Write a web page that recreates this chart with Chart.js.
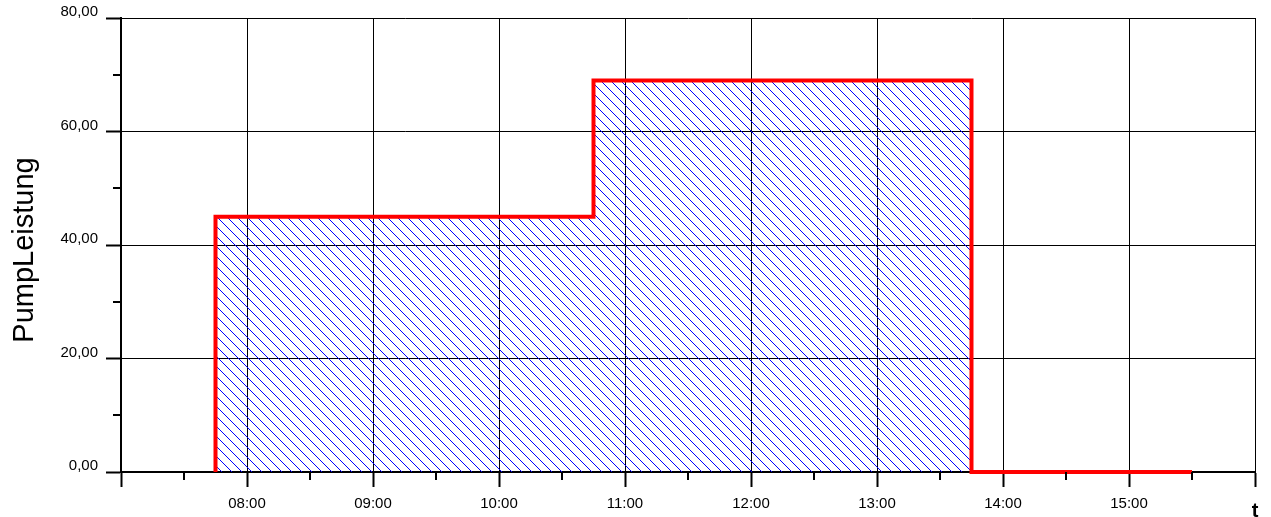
<!DOCTYPE html>
<html>
<head>
<meta charset="utf-8">
<script src="https://cdn.jsdelivr.net/npm/chart.js@4/dist/chart.umd.min.js"></script>
<style>
  html, body { margin: 0; padding: 0; background: #ffffff; }
  #wrap { width: 1271px; height: 517px; }
</style>
</head>
<body>
<div id="wrap"><canvas id="c" width="1271" height="517"></canvas></div>
<script>
// ---- data ----
const stepTimes = ['07:45', '07:45', '10:45', '13:45', '15:30'];
const pumpLeistung = [0, 45, 69, 0, 0];

const xRange = ['07:00', '16:00'];
const xTickHours = [8, 9, 10, 11, 12, 13, 14, 15, 16];
const xTickLabels = ['08:00', '09:00', '10:00', '11:00', '12:00', '13:00', '14:00', '15:00', 't'];

const yRange = [0, 80];
const yTickValues = [0, 20, 40, 60, 80];
const yTickLabels = ['0,00', '20,00', '40,00', '60,00', '80,00'];

const yTitle = 'PumpLeistung';

// ---- helpers ----
const FAMILY = '"Liberation Sans", Arial, Helvetica, sans-serif';
const toHours = s => { const [h, m] = s.split(':').map(Number); return h + m / 60; };
const isMajorX = v => Math.abs(v - Math.round(v)) < 1e-6;
const isMajorY = v => yTickValues.includes(Math.round(v)) && Math.abs(v - Math.round(v)) < 1e-6;
const xLabel = v => { const i = xTickHours.indexOf(Math.round(v)); return (isMajorX(v) && i >= 0) ? xTickLabels[i] : ''; };
const yLabel = v => { const i = yTickValues.indexOf(Math.round(v)); return (isMajorY(v) && i >= 0) ? yTickLabels[i] : ''; };

// hatch pattern
const tile = document.createElement('canvas');
tile.width = 10; tile.height = 10;
const tctx = tile.getContext('2d');
tctx.fillStyle = '#0000ff';
for (let i = 0; i < 10; i++) tctx.fillRect(i, i, 1, 1);
const canvas = document.getElementById('c');
const ctx = canvas.getContext('2d');
const hatch = ctx.createPattern(tile, 'repeat');

// minor tick marks (short), drawn from the library's scale ticks
const minorTicks = {
  id: 'minorTicks',
  afterDraw(chart) {
    const c = chart.ctx, xs = chart.scales.x, ys = chart.scales.y;
    c.save();
    c.strokeStyle = '#000000';
    c.lineWidth = 2;
    c.beginPath();
    xs.ticks.forEach(t => {
      if (!isMajorX(t.value)) {
        const px = Math.round(xs.getPixelForValue(t.value));
        c.moveTo(px, xs.top); c.lineTo(px, xs.top + 8);
      }
    });
    ys.ticks.forEach(t => {
      if (!isMajorY(t.value)) {
        const py = Math.round(ys.getPixelForValue(t.value));
        c.moveTo(ys.right, py); c.lineTo(ys.right - 8, py);
      }
    });
    c.stroke();
    c.restore();
  }
};

// y axis title
const yTitlePlugin = {
  id: 'yTitlePlugin',
  afterDraw(chart) {
    const c = chart.ctx, a = chart.chartArea;
    c.save();
    c.font = '29px ' + FAMILY;
    c.fillStyle = '#000000';
    c.textAlign = 'center';
    c.textBaseline = 'alphabetic';
    c.translate(33, (a.top + a.bottom) / 2 + 5);
    c.rotate(-Math.PI / 2);
    c.fillText(yTitle, 0, 0);
    c.restore();
  }
};

new Chart(ctx, {
  type: 'line',
  data: {
    datasets: [{
      data: stepTimes.map((t, i) => ({ x: toHours(t), y: pumpLeistung[i] })),
      stepped: 'before',
      borderColor: '#ff0000',
      borderWidth: 4,
      borderJoinStyle: 'miter',
      backgroundColor: hatch,
      fill: 'origin',
      pointRadius: 0,
      clip: false
    }]
  },
  options: {
    responsive: false,
    animation: false,
    layout: { padding: { top: 18, right: 16, left: 0, bottom: 0 } },
    plugins: { legend: { display: false }, tooltip: { enabled: false } },
    scales: {
      x: {
        type: 'linear',
        min: toHours(xRange[0]),
        max: toHours(xRange[1]),
        afterFit: s => { s.height = 45; },
        border: { color: '#000000', width: 2 },
        grid: {
          color: c => isMajorX(c.tick.value) ? '#000000' : 'rgba(0,0,0,0)',
          lineWidth: 1,
          tickLength: 15,
          tickWidth: 2,
          tickColor: c => isMajorX(c.tick.value) ? '#000000' : 'rgba(0,0,0,0)'
        },
        ticks: {
          stepSize: 0.5,
          autoSkip: false,
          maxRotation: 0,
          minRotation: 0,
          padding: 8,
          color: '#000000',
          font: c => (c.tick && Math.round(c.tick.value) === 16 && isMajorX(c.tick.value))
            ? { family: FAMILY, size: 20, weight: 'bold', lineHeight: 1.6 }
            : { family: FAMILY, size: 15, lineHeight: 1.2 },
          callback: v => xLabel(v)
        }
      },
      y: {
        min: yRange[0],
        max: yRange[1],
        afterFit: s => { s.width = 121; },
        border: { color: '#000000', width: 2 },
        grid: {
          color: c => isMajorY(c.tick.value) ? '#000000' : 'rgba(0,0,0,0)',
          lineWidth: 1,
          tickLength: 15,
          tickWidth: 2,
          tickColor: c => isMajorY(c.tick.value) ? '#000000' : 'rgba(0,0,0,0)'
        },
        ticks: {
          stepSize: 10,
          autoSkip: false,
          padding: 8,
          labelOffset: -6,
          color: '#000000',
          font: { family: FAMILY, size: 15 },
          callback: v => yLabel(v)
        }
      }
    }
  },
  plugins: [minorTicks, yTitlePlugin]
});
</script>
</body>
</html>
